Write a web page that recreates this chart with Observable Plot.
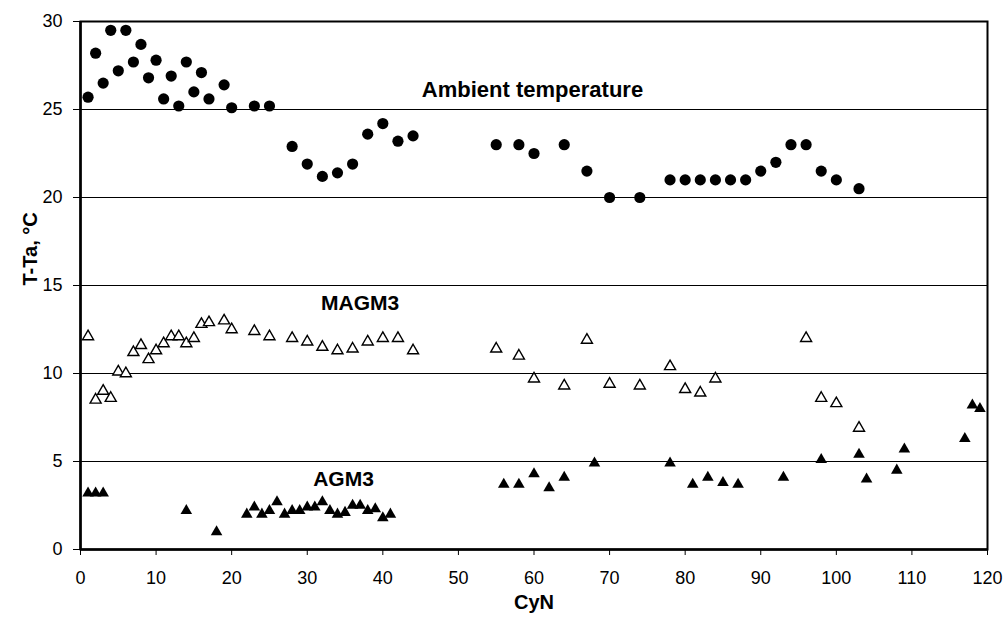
<!DOCTYPE html>
<html>
<head>
<meta charset="utf-8">
<script src="https://cdn.jsdelivr.net/npm/d3@7"></script>
<script src="https://cdn.jsdelivr.net/npm/@observablehq/plot@0.6"></script>
<style>
  html, body { margin: 0; padding: 0; background: #fff; }
  #chart { width: 1005px; height: 629px; }
</style>
</head>
<body>
<div id="chart"></div>
<script>
// Ambient temperature (filled circles)
const ambientX = [1,2,3,4,5,6,7,8,9,10,11,12,13,14,15,16,17,19,20,23,25,28,30,32,34,36,38,40,42,44,55,58,60,64,67,70,74,78,80,82,84,86,88,90,92,94,96,98,100,103];
const ambientY = [25.7,28.2,26.5,29.5,27.2,29.5,27.7,28.7,26.8,27.8,25.6,26.9,25.2,27.7,26.0,27.1,25.6,26.4,25.1,25.2,25.2,22.9,21.9,21.2,21.4,21.9,23.6,24.2,23.2,23.5,23.0,23.0,22.5,23.0,21.5,20.0,20.0,21.0,21.0,21.0,21.0,21.0,21.0,21.5,22.0,23.0,23.0,21.5,21.0,20.5];

// MAGM3 (open triangles)
const magmX = [1,2,3,4,5,6,7,8,9,10,11,12,13,14,15,16,17,19,20,23,25,28,30,32,34,36,38,40,42,44,55,58,60,64,67,70,74,78,80,82,84,96,98,100,103];
const magmY = [12.1,8.5,9.0,8.6,10.1,10.0,11.2,11.6,10.8,11.3,11.7,12.1,12.1,11.7,12.0,12.8,12.9,13.0,12.5,12.4,12.1,12.0,11.8,11.5,11.3,11.4,11.8,12.0,12.0,11.3,11.4,11.0,9.7,9.3,11.9,9.4,9.3,10.4,9.1,8.9,9.7,12.0,8.6,8.3,6.9];

// AGM3 (filled triangles)
const agmX = [1,2,3,14,18,22,23,24,25,26,27,28,29,30,31,32,33,34,35,36,37,38,39,40,41,56,58,60,62,64,68,78,81,83,85,87,93,98,103,104,108,109,117,118,119];
const agmY = [3.2,3.2,3.2,2.2,1.0,2.0,2.4,2.0,2.2,2.7,2.0,2.2,2.2,2.4,2.4,2.7,2.2,2.0,2.1,2.5,2.5,2.2,2.3,1.8,2.0,3.7,3.7,4.3,3.5,4.1,4.9,4.9,3.7,4.1,3.8,3.7,4.1,5.1,5.4,4.0,4.5,5.7,6.3,8.2,8.0];

const xTicks = [0,10,20,30,40,50,60,70,80,90,100,110,120];
const yTicks = [0,5,10,15,20,25,30];
const gridValues = [5,10,15,20,25];

const seriesLabels = ["Ambient temperature", "MAGM3", "AGM3"];
const xTitle = "CyN";
const yTitle = "T-Ta, °C";

const ambient = ambientX.map((x, i) => ({x, y: ambientY[i]}));
const magm = magmX.map((x, i) => ({x, y: magmY[i]}));
const agm = agmX.map((x, i) => ({x, y: agmY[i]}));

const font = "'Liberation Sans', Arial, sans-serif";

const chart = Plot.plot({
  width: 1005,
  height: 629,
  marginLeft: 80,
  marginRight: 18,
  marginTop: 21,
  marginBottom: 80,
  style: {fontFamily: font, fontSize: "18px", color: "#000", background: "#fff", overflow: "visible"},
  x: {domain: [0, 120]},
  y: {domain: [0, 30]},
  marks: [
    Plot.ruleY(gridValues, {stroke: "#000", strokeWidth: 1}),
    Plot.frame({stroke: "#000", strokeWidth: 2}),
    Plot.ruleY([0], {stroke: "#000", strokeWidth: 2.5}),
    Plot.ruleX([0], {stroke: "#000", strokeWidth: 2.5}),
    Plot.axisX({ticks: xTicks, tickSize: 6, tickPadding: 16, label: null, fontSize: 18, stroke: "#000"}),
    Plot.axisY({ticks: yTicks, tickSize: 7, tickPadding: 11, label: null, fontSize: 18, stroke: "#000"}),
    Plot.dot(ambient, {x: "x", y: "y", r: 5.6, fill: "#000", stroke: "none"}),
    Plot.dot(magm, {x: "x", y: "y", symbol: "triangle", r: 4.1, fill: "#fff", stroke: "#000", strokeWidth: 1.4}),
    Plot.dot(agm, {x: "x", y: "y", symbol: "triangle", r: 4.3, fill: "#000", stroke: "none"}),
    Plot.text([seriesLabels[0]], {x: 59.8, y: 26.1, text: d => d, fontWeight: "bold", fontSize: 22, fill: "#000"}),
    Plot.text([seriesLabels[1]], {x: 37.0, y: 14.0, text: d => d, fontWeight: "bold", fontSize: 21, fill: "#000"}),
    Plot.text([seriesLabels[2]], {x: 34.8, y: 4.0, text: d => d, fontWeight: "bold", fontSize: 21, fill: "#000"}),
    Plot.text([xTitle], {frameAnchor: "bottom", dy: 59, text: d => d, fontWeight: "bold", fontSize: 20, fill: "#000"}),
    Plot.text([yTitle], {frameAnchor: "left", dx: -50, rotate: -90, text: d => d, fontWeight: "bold", fontSize: 20, fill: "#000"})
  ]
});
document.getElementById("chart").appendChild(chart);
</script>
</body>
</html>
